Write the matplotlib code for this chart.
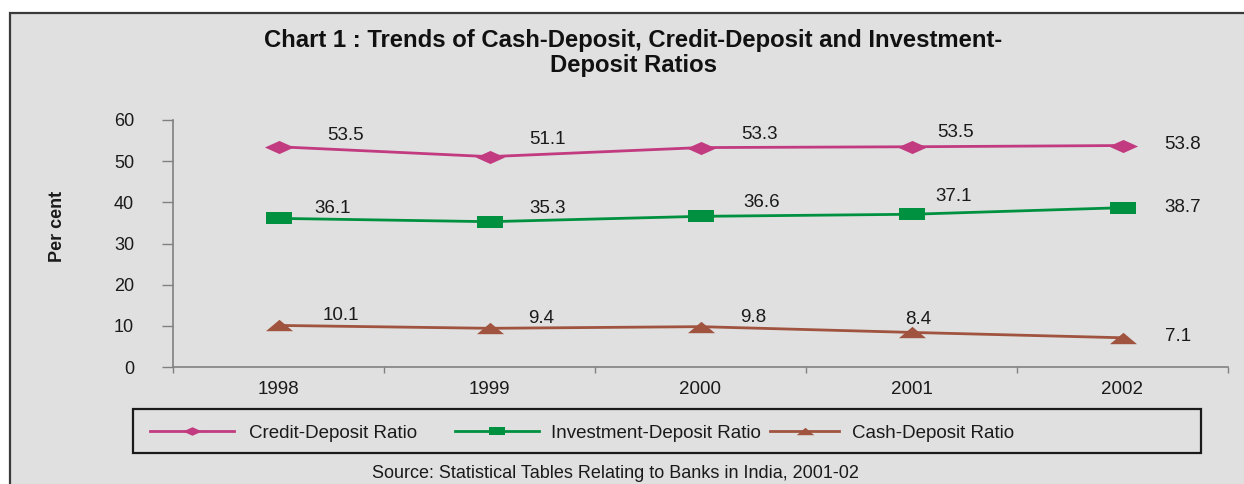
"""Cash-, credit- and investment-deposit ratios of banks, 1998-2002."""

import matplotlib
matplotlib.use("Agg")
import matplotlib.pyplot as plt
from matplotlib.lines import Line2D
from matplotlib.patches import Rectangle

plt.rcParams["font.family"] = ["Liberation Sans", "DejaVu Sans"]

years = ["1998", "1999", "2000", "2001", "2002"]
credit_deposit = [53.5, 51.1, 53.3, 53.5, 53.8]
investment_deposit = [36.1, 35.3, 36.6, 37.1, 38.7]
cash_deposit = [10.1, 9.4, 9.8, 8.4, 7.1]

series_names = ["Credit-Deposit Ratio", "Investment-Deposit Ratio", "Cash-Deposit Ratio"]
colors = ["#c23b80", "#009140", "#a0533f"]

# flattened marker outlines (width : height roughly 2 : 1)
diamond = [(-1, 0), (0, 0.45), (1, 0), (0, -0.45), (-1, 0)]
square = [(-1, -0.46), (1, -0.46), (1, 0.46), (-1, 0.46), (-1, -0.46)]
triangle = [(-1, -0.42), (1, -0.42), (0, 0.42), (-1, -0.42)]
markers = [diamond, square, triangle]
marker_sizes = [21, 18.7, 19.5]

# where each value label sits relative to its point (pixels)
label_offsets = [
    [(67, 11), (58, 17), (59, 13), (44, 14), (42, 1)],
    [(54, 10), (58, 13), (61, 14), (42, 18), (42, 0)],
    [(62, 10), (52, 10), (53, 9), (7, 13), (42, 1)],
]

W, H = 1244, 484
fig = plt.figure(figsize=(W / 100, H / 100), dpi=100)
fig.patch.set_facecolor("white")

# grey chart panel with a dark rule on the left and top
fig.patches.append(Rectangle((10 / W, -0.1), 1.2, (H - 13) / H + 0.1,
                             transform=fig.transFigure, facecolor="#e0e0e0",
                             edgecolor="#3a3a3a", linewidth=1.6, zorder=-10))

ax = fig.add_axes([173 / W, (H - 367) / H, (1228 - 173) / W, (367 - 120) / H])
ax.set_facecolor("none")

x = list(range(len(years)))
all_series = [credit_deposit, investment_deposit, cash_deposit]
handles = []
for vals, name, col, mk, ms, offs in zip(all_series, series_names, colors,
                                         markers, marker_sizes, label_offsets):
    ln, = ax.plot(x, vals, color=col, lw=2.0, marker=mk, markersize=ms,
                  markeredgewidth=0, label=name, clip_on=False, zorder=3)
    handles.append(ln)
    for i, v in enumerate(vals):
        last = i == len(vals) - 1
        ax.annotate(f"{v:.1f}", (x[i], v), xytext=offs[i], textcoords="offset pixels",
                    ha="left" if last else "center", va="center",
                    fontsize=13.5, color="#1a1a1a")

ax.set_xlim(-0.5, len(years) - 0.5)
ax.set_ylim(0, 60)
ax.set_yticks(range(0, 61, 10))
ax.set_xticks([i - 0.5 for i in range(len(years) + 1)])
ax.set_xticklabels([])
ax.set_xticks(x, minor=True)
ax.set_xticklabels(years, minor=True)
ax.tick_params(axis="x", which="major", direction="out", length=4, color="#808080", width=1)
ax.tick_params(axis="x", which="minor", length=0, pad=10, labelsize=13.5, labelcolor="#1a1a1a")
ax.tick_params(axis="y", direction="out", length=8, color="#808080", width=1,
               pad=20, labelsize=13, labelcolor="#1a1a1a")
for side in ("top", "right"):
    ax.spines[side].set_visible(False)
for side in ("left", "bottom"):
    ax.spines[side].set_color("#808080")
    ax.spines[side].set_linewidth(1.2)

fig.text(57 / W, 1 - 226 / H, "Per cent", rotation=90, ha="center", va="center",
         fontsize=13, fontweight="bold", color="#1a1a1a")

fig.text(633 / W, 1 - 53 / H,
         "Chart 1 : Trends of Cash-Deposit, Credit-Deposit and Investment-\nDeposit Ratios",
         ha="center", va="center", fontsize=17.2, fontweight="bold", linespacing=1.1,
         color="#111111")

# legend frame, then one legend per series inside it
fig.patches.append(Rectangle((133 / W, 1 - 453 / H), (1201 - 133) / W, 44 / H,
                             transform=fig.transFigure, facecolor="none",
                             edgecolor="#1a1a1a", linewidth=1.6, zorder=1))
legend_x = [150, 455, 770]
handle_len = [4.5, 4.5, 3.7]
text_pad = [0.8, 0.6, 0.65]
for h, lx, hl, tp in zip(handles, legend_x, handle_len, text_pad):
    lh = Line2D([], [], color=h.get_color(), lw=2.0, marker=h.get_marker(),
                markersize=h.get_markersize() * 0.65, markeredgewidth=0)
    leg = fig.legend([lh], [h.get_label()], loc="center left",
                     bbox_to_anchor=(lx / W, 1 - 433 / H), frameon=False, fontsize=13.5,
                     handlelength=hl, handletextpad=tp, borderpad=0, borderaxespad=0)
    for t in leg.get_texts():
        t.set_color("#1a1a1a")

fig.text(615 / W, 1 - 473 / H,
         "Source: Statistical Tables Relating to Banks in India, 2001-02",
         ha="center", va="center", fontsize=13, color="#1a1a1a")

fig.savefig("out.png", dpi=100)
